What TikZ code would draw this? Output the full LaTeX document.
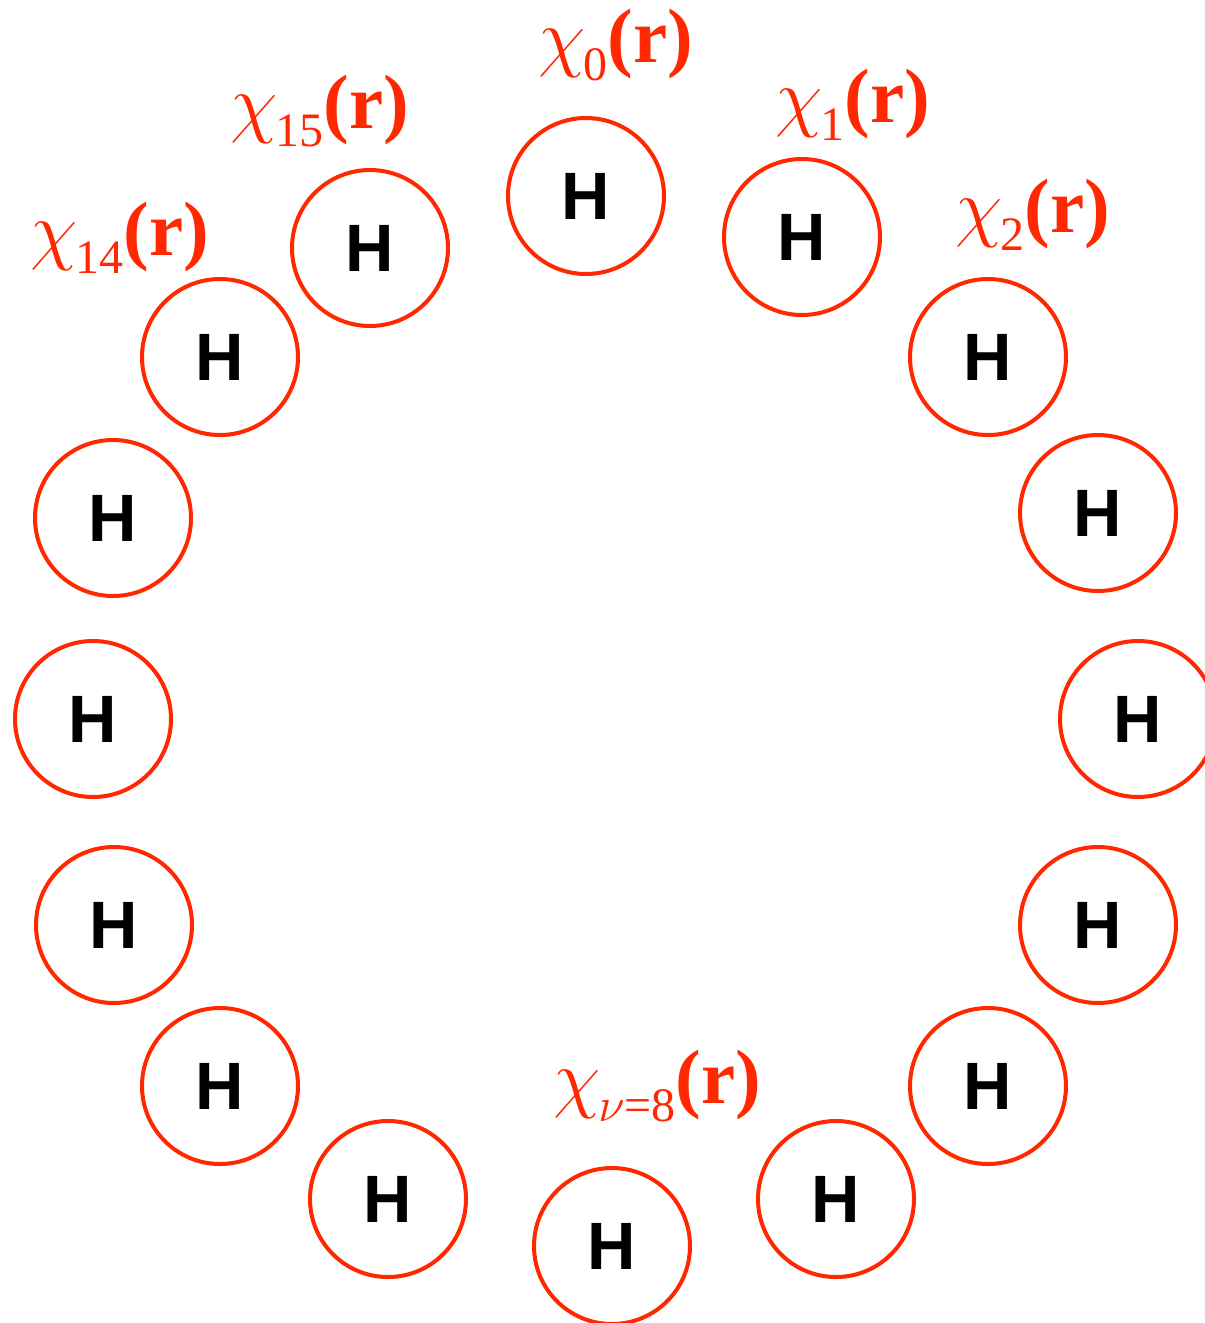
\RequirePackage{fix-cm}
\documentclass[tikz,border=0pt]{standalone}
\usepackage{fontspec}
\setmainfont{Liberation Serif}
\newfontfamily\atomfont{Liberation Sans}
\usepackage{xcolor}
\usepackage{tikz}
\definecolor{orbred}{RGB}{255,40,0}
% orbital label: chi, lowered subscript, bold (r)
\newcommand{\orblab}[1]{$\chi$\kern-2pt\raisebox{-18pt}{\fontsize{48}{48}\selectfont #1}\textbf{(r)}}

\begin{document}
\begin{tikzpicture}[x=1pt, y=-1pt,
    atom/.style={circle, draw=orbred, line width=4pt, minimum size=156pt, inner sep=0pt,
                 font=\atomfont\bfseries\fontsize{67}{67}\selectfont},
    orb/.style={anchor=base west, inner sep=0pt, text=orbred,
                font=\fontsize{77}{77}\selectfont}]
  \useasboundingbox (0,0) rectangle (1205,1323);
  % --- the ring of 16 hydrogen atoms ---------------------------------------
  \foreach \i/\x/\y in {0/586/196, 1/802/237, 2/988/357, 3/1098/513,
                        4/1138/719, 5/1098/925, 6/988/1086, 7/836/1199,
                        8/612/1246, 9/388/1199, 10/220/1086, 11/114/925,
                        12/93/719, 13/113/518, 14/220/357, 15/370/248} {
     \node[atom] (h\i) at (\x,\y) {H};
  }
  % --- basis-function labels -----------------------------------------------
  \foreach \i/\x/\y in {0/538/62, 1/775/122, 2/955/232, 14/30/255, 15/230/128} {
     \node[orb] (chi\i) at (\x,\y) {\orblab{\i}};
  }
  \node[orb] (chi8) at (553,1103) {\orblab{$\nu$=8}};
\end{tikzpicture}
\end{document}
